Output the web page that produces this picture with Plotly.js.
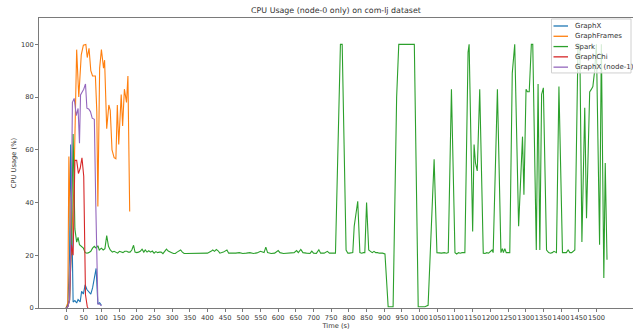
<!DOCTYPE html>
<html>
<head>
<meta charset="utf-8">
<script src="https://cdn.plot.ly/plotly-3.0.1.min.js"></script>
<style>html,body{margin:0;padding:0;background:#fff;}#chart{width:633px;height:330px;}</style>
</head>
<body>
<div id="chart"></div>
<script>
// ---- data ----
const seriesNames = ["GraphX", "GraphFrames", "Spark", "GraphChi", "GraphX (node-1)"];
const seriesColors = ["#1f77b4", "#ff7f0e", "#2ca02c", "#d62728", "#9467bd"];

const graphxT = [0, 5, 10, 13, 20, 25, 30, 34, 40, 44, 49, 54, 59, 65, 70, 75, 79, 85, 90, 95, 100];
const graphxV = [0, 0.5, 20, 62, 2.3, 2.8, 1.9, 3.2, 2.3, 6.3, 5.3, 8.8, 7, 6, 5.3, 7.6, 10.7, 15, 1.5, 2, 1];

const graphframesT = [0, 5, 8, 14, 22, 30, 36, 43, 49, 56, 60, 65, 70, 75, 83, 87, 90, 95, 100, 106, 109, 115, 121, 125, 130, 136, 141, 145, 149, 156, 160, 165, 171, 175, 180];
const graphframesV = [0, 2, 57.5, 20, 45, 98, 80, 96, 99.7, 100, 95, 98.5, 90, 88, 88, 74.5, 38.5, 91, 98, 91, 94, 68, 77, 75, 60, 57, 56.6, 77, 62, 81, 69, 83, 78, 88, 36.6];

const sparkT = [0, 5, 10, 15, 20, 25, 30, 34, 38, 43, 49, 54, 59, 64, 70, 75, 80, 85, 90, 94, 100, 105, 110, 115, 120, 125, 131, 136, 141, 146, 151, 156, 161, 166, 172, 176, 181, 186, 191, 195, 200, 205, 210, 215, 220, 224, 229, 234, 239, 244, 249, 254, 259, 264, 269, 274, 279, 284, 289, 294, 299, 304, 309, 314, 319, 324, 329, 334, 339, 344, 349, 354, 359, 364, 369, 374, 379, 384, 390, 400, 410, 415, 420, 425, 430, 435, 445, 455, 460, 470, 480, 490, 500, 510, 520, 530, 540, 550, 560, 565, 570, 580, 590, 600, 605, 615, 625, 635, 645, 652, 657, 664, 670, 680, 690, 695, 700, 708, 715, 720, 730, 739, 745, 755, 762, 776, 781, 792, 797, 802, 807, 811, 815, 825, 831, 836, 841, 845, 850, 856, 861, 866, 871, 876, 881, 886, 895, 902, 911, 916, 921, 925, 935, 941, 950, 960, 970, 980, 985, 996, 1005, 1015, 1024, 1034, 1041, 1049, 1055, 1062, 1070, 1076, 1081, 1090, 1100, 1105, 1110, 1115, 1120, 1128, 1137, 1140, 1150, 1154, 1158, 1163, 1170, 1180, 1185, 1190, 1195, 1200, 1205, 1208, 1220, 1230, 1234, 1237, 1241, 1245, 1250, 1255, 1262, 1269, 1280, 1291, 1295, 1301, 1305, 1310, 1316, 1320, 1330, 1335, 1340, 1345, 1350, 1359, 1365, 1370, 1375, 1380, 1387, 1394, 1404, 1410, 1415, 1420, 1425, 1430, 1435, 1439, 1448, 1453, 1459, 1467, 1472, 1481, 1486, 1490, 1495, 1500, 1509, 1514, 1521, 1525, 1530];
const sparkV = [0, 1, 3, 25, 66, 30, 25, 26.8, 24, 23.4, 22.7, 21, 20.8, 21, 21.5, 22.7, 23.4, 22.7, 23.6, 22, 22.7, 22, 22.5, 27.5, 23.4, 22, 21.2, 21.5, 21, 20.8, 21.5, 21.2, 21, 21.5, 21.5, 21.2, 21.2, 22, 23.8, 21.2, 21, 21.2, 21.5, 22.3, 21.2, 22, 21.2, 21.7, 21.2, 21.6, 20.8, 21.4, 21, 21.2, 21.2, 20.6, 21.5, 22.3, 21.6, 21.4, 21, 20.7, 20.7, 21.2, 21.5, 22, 21.2, 20.7, 20.7, 20.7, 20.8, 20.8, 20.7, 20.6, 20.7, 20.7, 20.6, 20.8, 20.7, 20.8, 21.5, 22, 21.5, 22.2, 21.7, 20.8, 21.2, 22, 20.8, 20.7, 20.8, 21, 20.7, 20.8, 21, 20.7, 20.9, 21.5, 21, 23.1, 21, 20.7, 20.8, 21.8, 21, 20.7, 20.8, 20.7, 21, 21.8, 21, 22.2, 21, 20.8, 20.7, 21.6, 20.8, 20.7, 22.1, 20.8, 20.8, 21.5, 20.8, 20.8, 20.8, 100, 100, 22, 20.8, 20.8, 21, 21, 31, 40.5, 21, 20.8, 21, 21, 40, 22, 21.5, 21, 21.5, 21, 21, 20.8, 20.8, 20.5, 0.5, 0.5, 0.5, 0.5, 80, 100, 100, 100, 100, 100, 100, 0.5, 0.5, 0.5, 1, 32, 56.4, 21, 20.8, 20.8, 21, 20.8, 21, 83, 21, 20.5, 21, 20.8, 21, 21, 97, 100, 29, 62, 55, 52, 83, 20.8, 20.7, 21, 20.8, 21.5, 22, 21, 83, 21, 22.5, 21, 22.5, 21, 21, 21, 89, 100, 31, 65, 43, 83, 82, 82, 100, 100, 22, 85, 22, 81, 83.5, 22, 21, 20.8, 21, 21.5, 21, 84, 21, 21, 21, 22, 21, 21, 21.5, 22, 100, 100, 25, 76, 34, 82, 83, 84, 90, 100, 24, 100, 11.4, 55, 18.3];

const graphchiT = [0, 5, 10, 15, 20, 25, 30, 35, 40, 45, 50, 55, 60, 62];
const graphchiV = [0, 0.5, 3, 24, 20, 56, 56, 51, 53, 57, 50, 5, 0.5, 0];

const graphxN1T = [0, 5, 10, 15, 18, 23, 29, 34, 38, 41, 46, 50, 55, 59, 64, 69, 74, 80, 84, 90, 95, 100];
const graphxN1V = [0, 0.5, 3, 40, 78, 79.5, 73, 75.7, 62.5, 80.8, 82, 83, 85, 75.8, 75.5, 74.5, 72, 71.6, 40, 1.5, 1.5, 0.8];

const xTickVals = [0, 50, 100, 150, 200, 250, 300, 350, 400, 450, 500, 550, 600, 650, 700, 750, 800, 850, 900, 950, 1000, 1050, 1100, 1150, 1200, 1250, 1300, 1350, 1400, 1450, 1500];
const yTickVals = [0, 20, 40, 60, 80, 100];

const titleText = "CPU Usage (node-0 only) on com-lj dataset";
const xTitle = "Time (s)";
const yTitle = "CPU Usage (%)";

// ---- build ----
const xs = [graphxT, graphframesT, sparkT, graphchiT, graphxN1T];
const ys = [graphxV, graphframesV, sparkV, graphchiV, graphxN1V];
const FONT = "DejaVu Sans, sans-serif";
const TXT = "#333333";
const AX = "#7a7a7a";

const traces = seriesNames.map((n, i) => ({
  type: "scatter", mode: "lines", name: n, x: xs[i], y: ys[i],
  line: {color: seriesColors[i], width: 1.1}, showlegend: false
}));

// compact matplotlib-style legend
const plotW = 633 - 39, plotH = 308.3 - 18;
const legShapes = [];
const legAnn = [];
legShapes.push({type: "rect", xref: "paper", yref: "paper",
  x0: (551.5 - 39) / plotW, x1: (631 - 39) / plotW, y0: (308.3 - 73) / plotH, y1: (308.3 - 19) / plotH,
  fillcolor: "rgba(255,255,255,0.8)", line: {color: "#d0d0d0", width: 1}, layer: "above"});
seriesNames.forEach((n, i) => {
  const yPx = 308.3 - (26 + i * 10.3);
  legShapes.push({type: "line", xref: "paper", yref: "paper",
    x0: (553.5 - 39) / plotW, x1: (568 - 39) / plotW, y0: yPx / plotH, y1: yPx / plotH,
    line: {color: seriesColors[i], width: 1.3}, layer: "above"});
  legAnn.push({xref: "paper", yref: "paper", x: (572.5 - 39) / plotW, y: yPx / plotH,
    xanchor: "left", yanchor: "middle", text: n, showarrow: false,
    font: {family: FONT, size: 7, color: TXT}});
});

const axisCommon = {
  showgrid: false, zeroline: false, showline: true, linecolor: AX, linewidth: 1,
  ticks: "outside", ticklen: 3, tickwidth: 1, tickcolor: AX,
  tickfont: {family: FONT, size: 6.7, color: TXT}, mirror: true
};

const layout = {
  width: 633, height: 330,
  margin: {l: 39, r: 0, t: 18, b: 21.7},
  paper_bgcolor: "#ffffff", plot_bgcolor: "#ffffff",
  title: {text: titleText, font: {family: FONT, size: 7.9, color: TXT},
          x: (39 + 594 / 2) / 633, xanchor: "center", y: 1 - 10 / 330, yanchor: "middle"},
  xaxis: Object.assign({}, axisCommon, {
    range: [-76.5, 1603.5], tickmode: "array", tickvals: xTickVals, ticktext: xTickVals.map(String),
    tickangle: 0,
    title: {text: xTitle, font: {family: FONT, size: 6.7, color: TXT}, standoff: 3}
  }),
  yaxis: Object.assign({}, axisCommon, {
    range: [0, 110], tickmode: "array", tickvals: yTickVals, ticktext: yTickVals.map(String),
    title: {text: yTitle, font: {family: FONT, size: 6.7, color: TXT}, standoff: 3}
  }),
  shapes: legShapes,
  annotations: legAnn,
  showlegend: false
};

Plotly.newPlot("chart", traces, layout, {displayModeBar: false, staticPlot: true});
</script>
</body>
</html>
